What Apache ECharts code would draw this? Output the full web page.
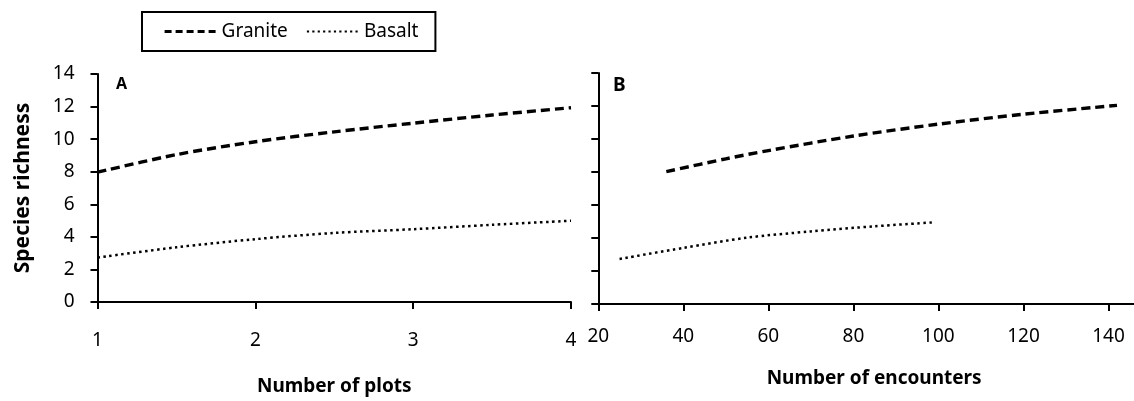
<!DOCTYPE html>
<html>
<head>
<meta charset="utf-8">
<title>Species richness</title>
<script src="https://cdn.jsdelivr.net/npm/echarts@6/dist/echarts.min.js"></script>
<style>
  html, body { margin: 0; padding: 0; background: #fff; }
  #chart { width: 1134px; height: 401px; }
</style>
</head>
<body>
<div id="chart"></div>
<script>
// panel A: number of plots
var plotsX = [1, 1.5, 2, 2.5, 3, 3.5, 4];
var graniteA = [7.97, 9.05, 9.84, 10.45, 10.98, 11.48, 11.93];
var basaltA = [2.73, 3.36, 3.86, 4.24, 4.47, 4.74, 4.99];

// panel B: number of encounters
var graniteBX = [36, 50, 60, 80, 100, 120, 142];
var graniteB = [8.02, 8.8, 9.3, 10.18, 10.9, 11.5, 12.04];
var basaltBX = [25, 40, 55, 70, 85, 99];
var basaltB = [2.73, 3.4, 4.02, 4.4, 4.71, 4.95];

var yTicks = [0, 2, 4, 6, 8, 10, 12, 14];

var FONT = '"Noto Sans", sans-serif';

function pairs(xs, ys) {
    var out = [];
    for (var i = 0; i < xs.length; i++) {
        out.push([xs[i], ys[i]]);
    }
    return out;
}

var graniteStyle = { color: '#000', width: 3.4, type: [9, 5], cap: 'butt' };
var basaltStyle = { color: '#000', width: 2.5, type: [2.5, 3.5], cap: 'butt' };

function axisCommon(extra, labelMargin) {
    var base = {
        axisLine: { lineStyle: { color: '#000', width: 2 } },
        axisTick: { inside: false, length: 7, lineStyle: { color: '#000', width: 2 } },
        splitLine: { show: false },
        axisLabel: { color: '#000', fontSize: 19, fontFamily: FONT, margin: labelMargin }
    };
    return Object.assign(base, extra);
}

var myChart = echarts.init(document.getElementById('chart'));

myChart.setOption({
    animation: false,
    backgroundColor: '#fff',
    title: [
        { text: 'A', left: 111, top: 71, textStyle: { fontFamily: FONT, fontWeight: 'bold', fontSize: 16, color: '#000' } },
        { text: 'B', left: 608, top: 71, textStyle: { fontFamily: FONT, fontWeight: 'bold', fontSize: 19, color: '#000' } }
    ],
    legend: {
        left: 142,
        top: 12,
        padding: [10, 17, 10, 21],
        itemGap: 18,
        itemWidth: 52,
        itemHeight: 14,
        borderColor: '#000',
        borderWidth: 2,
        itemStyle: { opacity: 0 },
        data: [
            { name: 'Granite', lineStyle: { width: 3.2, type: [7, 4], cap: 'butt' } },
            { name: 'Basalt', lineStyle: { width: 2.2, type: [2.2, 3.2], cap: 'butt' } }
        ],
        textStyle: { fontFamily: FONT, fontSize: 19, color: '#000' }
    },
    grid: [
        { left: 97.5, top: 74, width: 473.5, height: 232 },
        { left: 598.3, top: 73, width: 536.6, height: 231 }
    ],
    xAxis: [
        axisCommon({
            type: 'value', gridIndex: 0, min: 1, max: 4, interval: 1,
            name: 'Number of plots', nameLocation: 'middle', nameGap: 75,
            nameTextStyle: { fontFamily: FONT, fontWeight: 'bold', fontSize: 19, color: '#000' }
        }, 29),
        axisCommon({
            type: 'value', gridIndex: 1, min: 20, max: 146, interval: 20,
            name: 'Number of encounters', nameLocation: 'middle', nameGap: 65,
            nameTextStyle: { fontFamily: FONT, fontWeight: 'bold', fontSize: 19, color: '#000', padding: [0, 0, 0, 16] }
        }, 23)
    ],
    yAxis: [
        axisCommon({
            type: 'value', gridIndex: 0, min: yTicks[0], max: yTicks[yTicks.length - 1], interval: 2,
            name: 'Species richness', nameLocation: 'middle', nameGap: 64,
            nameTextStyle: { fontFamily: FONT, fontWeight: 'bold', fontSize: 21, color: '#000' }
        }, 23),
        axisCommon({
            type: 'value', gridIndex: 1, min: yTicks[0], max: yTicks[yTicks.length - 1], interval: 2
        }, 23)
    ],
    series: [
        { name: 'Granite', type: 'line', xAxisIndex: 0, yAxisIndex: 0, data: pairs(plotsX, graniteA),
          smooth: 0.3, symbol: 'none', lineStyle: graniteStyle, itemStyle: { color: '#000', opacity: 0 } },
        { name: 'Basalt', type: 'line', xAxisIndex: 0, yAxisIndex: 0, data: pairs(plotsX, basaltA),
          smooth: 0.3, symbol: 'none', lineStyle: basaltStyle, itemStyle: { color: '#000', opacity: 0 } },
        { name: 'Granite', type: 'line', xAxisIndex: 1, yAxisIndex: 1, data: pairs(graniteBX, graniteB),
          smooth: 0.3, symbol: 'none', lineStyle: graniteStyle, itemStyle: { color: '#000', opacity: 0 } },
        { name: 'Basalt', type: 'line', xAxisIndex: 1, yAxisIndex: 1, data: pairs(basaltBX, basaltB),
          smooth: 0.3, symbol: 'none', lineStyle: basaltStyle, itemStyle: { color: '#000', opacity: 0 } }
    ]
});

// panel B shares the y scale of panel A, so its tick labels are hidden
myChart.setOption({ yAxis: [{}, { axisLabel: { show: false } }] });
</script>
</body>
</html>
